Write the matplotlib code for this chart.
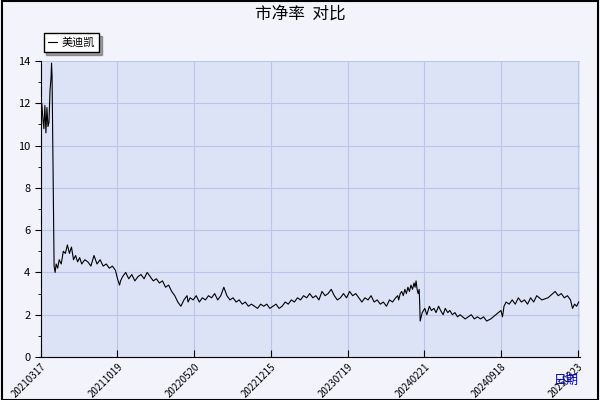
import matplotlib
matplotlib.use("Agg")
import matplotlib.pyplot as plt
from matplotlib.patches import Rectangle

plt.rcParams['font.family'] = ['Noto Sans CJK SC', 'DejaVu Sans']

tick_labels = ["20210317", "20211019", "20220520", "20221215", "20230719", "20240221", "20240918", "20250323"]
tick_pos = [0, 150, 300, 450, 600, 750, 900, 1050]

day = [0, 2, 4, 6, 8, 10, 12, 14, 16, 18, 20, 21, 22, 24, 26, 28, 30, 33, 36, 40, 44, 48, 52, 56, 60,
       64, 68, 72, 76, 80, 86, 92, 98, 104, 110, 116, 122, 128, 134, 140, 146, 150, 154, 156, 160,
       166, 172, 178, 184, 190, 196, 202, 208, 214, 220, 226, 232, 238, 244, 250, 256, 262, 268,
       274, 280, 286, 288, 292, 298, 304, 310, 316, 322, 328, 334, 340, 346, 352, 358, 364, 370,
       376, 382, 388, 394, 400, 406, 412, 418, 424, 430, 436, 442, 448, 454, 460, 466, 472, 478,
       484, 490, 496, 502, 508, 514, 520, 526, 532, 538, 544, 550, 556, 562, 568, 574, 580, 586,
       592, 598, 604, 610, 616, 622, 628, 634, 640, 646, 652, 658, 664, 670, 676, 682, 688, 694,
       698, 700, 703, 706, 709, 712, 715, 718, 721, 724, 727, 730, 732, 734, 736, 738, 740, 741,
       742, 746, 751, 755, 760, 764, 769, 773, 778, 782, 787, 791, 796, 800, 805, 810, 815, 820,
       825, 830, 836, 842, 848, 854, 860, 866, 872, 880, 900, 903, 906, 910, 916, 922, 928, 934,
       940, 946, 952, 958, 964, 970, 980, 992, 1006, 1012, 1018, 1024, 1030, 1036, 1040, 1044, 1048, 1052]
pb = [11.2, 12.0, 11.3, 10.8, 11.9, 10.6, 11.8, 10.9, 11.1, 12.6, 13.2, 13.9, 13.3, 8.7, 4.3, 4.0, 4.4, 4.2, 4.6, 4.4, 5.0, 4.9, 5.3, 4.9, 5.2,
      4.6, 4.8, 4.5, 4.7, 4.4, 4.6, 4.5, 4.3, 4.8, 4.4, 4.6, 4.3, 4.4, 4.2, 4.3, 4.1, 3.7, 3.4, 3.6, 3.8,
      4.0, 3.7, 3.9, 3.6, 3.8, 3.9, 3.7, 4.0, 3.8, 3.6, 3.7, 3.5, 3.6, 3.3, 3.4, 3.1, 2.9, 2.6,
      2.4, 2.7, 2.9, 2.6, 2.8, 2.7, 2.9, 2.6, 2.8, 2.7, 2.9, 2.8, 3.0, 2.7, 2.9, 3.3, 2.9, 2.7,
      2.8, 2.6, 2.7, 2.5, 2.6, 2.4, 2.5, 2.4, 2.3, 2.5, 2.4, 2.5, 2.3, 2.4, 2.5, 2.3, 2.4, 2.6,
      2.5, 2.7, 2.6, 2.8, 2.7, 2.9, 2.8, 3.0, 2.8, 2.9, 2.7, 3.1, 2.9, 3.0, 3.2, 2.9, 2.7, 2.8,
      3.0, 2.8, 3.1, 2.9, 3.0, 2.8, 2.6, 2.8, 2.7, 2.9, 2.6, 2.7, 2.5, 2.6, 2.4, 2.7, 2.6, 2.8,
      2.9, 2.7, 3.0, 3.1, 2.9, 3.2, 3.0, 3.3, 3.1, 3.4, 3.2, 3.5, 3.3, 3.6, 3.2, 3.0, 3.2, 2.6,
      1.7, 2.1, 2.3, 2.0, 2.4, 2.2, 2.3, 2.1, 2.4, 2.2, 2.0, 2.3, 2.1, 2.2, 2.0, 2.1, 1.9, 2.0,
      1.9, 1.8, 1.9, 2.0, 1.8, 1.9, 1.8, 1.9, 1.7, 1.8, 2.2, 1.9, 2.4, 2.6, 2.5, 2.7, 2.5, 2.8,
      2.6, 2.7, 2.5, 2.8, 2.6, 2.9, 2.7, 2.8, 3.1, 2.9, 3.0, 2.8, 2.9, 2.7, 2.3, 2.5, 2.4, 2.6]

fig = plt.figure(figsize=(6, 4), dpi=100)
fig.patch.set_facecolor('#f2f3fb')
fig.patches.append(Rectangle((0.003, 0.0), 0.994, 0.997, transform=fig.transFigure,
                             fill=False, edgecolor='black', linewidth=1.5))
ax = fig.add_axes([0.068, 0.1075, 0.899, 0.74])
ax.set_facecolor('#dce3f7')
ax.plot(day, pb, color='black', linewidth=0.8, label='美迪凯')
ax.set_xlim(0, 1055)
ax.set_ylim(0, 14)
ax.set_yticks(range(0, 15, 2))
ax.set_yticks(range(0, 15, 1), minor=True)
ax.set_xticks(tick_pos)
ax.set_xticklabels(tick_labels, rotation=45, ha='right', fontsize=7, rotation_mode='anchor')
ax.tick_params(axis='y', labelsize=8, direction='out', length=4)
ax.tick_params(axis='y', which='minor', length=2)
ax.tick_params(axis='x', direction='in', length=5)
ax.grid(True, color='#b8c6ec', linewidth=0.8)
for s in ['top', 'right']:
    ax.spines[s].set_visible(False)
fig.text(0.5, 0.965, '市净率  对比', ha='center', va='center', fontsize=12)
fig.text(0.965, 0.05, '日期', ha='right', va='center', fontsize=9, color='#0000cc')
leg = ax.legend(loc='lower left', bbox_to_anchor=(-0.005, 1.01), fontsize=8, frameon=True,
                fancybox=False, shadow=True, handlelength=0.8, borderpad=0.4, handletextpad=0.4)
leg.get_frame().set_edgecolor('black')
fig.savefig('out.png', dpi=100, facecolor=fig.get_facecolor())
